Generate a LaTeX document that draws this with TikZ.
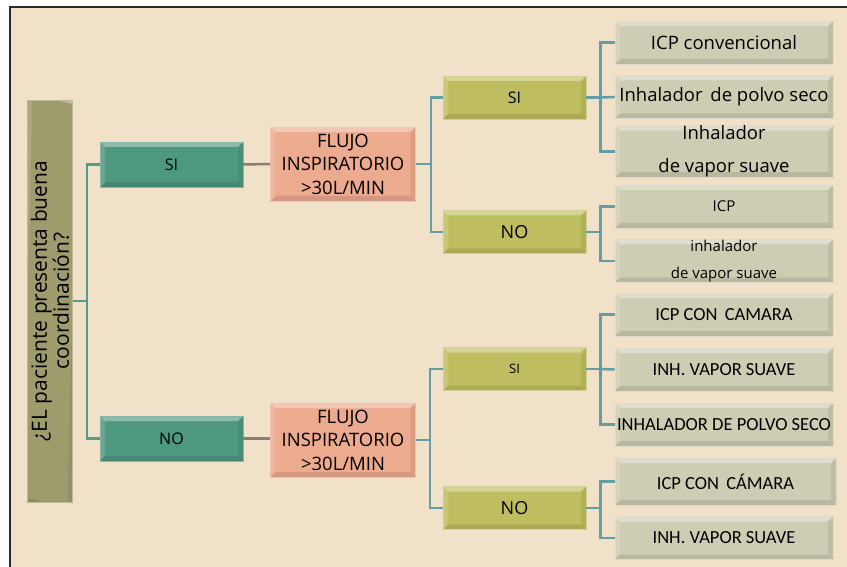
\documentclass[tikz,border=0pt]{standalone}
\usepackage{fontspec}
\setmainfont{Open Sans}
\newfontfamily\capsfont{Carlito}
\usetikzlibrary{calc}

\definecolor{beige}{RGB}{240,225,200}
\definecolor{frame}{RGB}{40,40,40}
\definecolor{olive}{RGB}{158,155,108}
\definecolor{teal}{RGB}{79,152,128}
\definecolor{salmon}{RGB}{236,170,142}
\definecolor{mustard}{RGB}{190,190,96}
\definecolor{sage}{RGB}{206,204,179}
\definecolor{greenline}{RGB}{82,156,138}
\definecolor{blueline}{RGB}{98,158,168}
\definecolor{brownline}{RGB}{138,124,114}

\tikzset{
	bevel/.style = {path picture = {
		\path (path picture bounding box.north west) coordinate (nw)
			(path picture bounding box.north east) coordinate (ne)
			(path picture bounding box.south west) coordinate (sw)
			(path picture bounding box.south east) coordinate (se);
		\fill [white, opacity = 0.35] (nw) -- (ne) -- ($(ne) + (-5pt, -5pt)$) -- ($(nw) + (5pt, -5pt)$) -- cycle;
		\fill [white, opacity = 0.15] (nw) -- ($(nw) + (5pt, -5pt)$) -- ($(sw) + (5pt, 5pt)$) -- (sw) -- cycle;
		\fill [black, opacity = 0.10] (sw) -- (se) -- ($(se) + (-5pt, 5pt)$) -- ($(sw) + (5pt, 5pt)$) -- cycle;
		\fill [black, opacity = 0.07] (ne) -- (se) -- ($(se) + (-5pt, 5pt)$) -- ($(ne) + (-5pt, -5pt)$) -- cycle;
	}},
	box/.style = {bevel, inner sep = 0pt, align = center, line width = 0.8pt},
	qbox/.style = {box, fill = olive, draw = olive!70!white, rotate = 90,
		minimum width = 402, minimum height = 45, font = \fontsize{21}{22}\selectfont},
	gbox/.style = {box, fill = teal, draw = teal!70!white,
		minimum width = 143, minimum height = 45, font = \fontsize{16}{19}\selectfont},
	fbox/.style = {box, fill = salmon, draw = salmon!70!white,
		minimum width = 145, minimum height = 74, font = \fontsize{18.5}{23.5}\selectfont},
	ybox/.style = {box, fill = mustard, draw = mustard!70!white,
		minimum width = 143, minimum height = 43},
	leaf/.style = {box, fill = sage, draw = sage!70!white,
		minimum width = 218, minimum height = 43, font = \fontsize{18.5}{33}\selectfont},
	capleaf/.style = {leaf, font = \capsfont\fontsize{18.5}{20}\selectfont},
	gline/.style = {draw = greenline, line width = 2.5pt},
	bline/.style = {draw = blueline, line width = 2.5pt},
	rline/.style = {draw = brownline, line width = 2.5pt}
}

\begin{document}
\begin{tikzpicture}[x = 1pt, y = -1pt]

	% Canvas and frame

	\useasboundingbox (0, 0) rectangle (847, 567);
	\fill [white] (0, 0) rectangle (847, 567);
	\fill [beige] (10, 7) rectangle (847, 567);
	\draw [frame, line width = 2pt] (10, 567) -- (10, 7) -- (847, 7);

	% Question

	\node [qbox] (q) at (50, 301) {¿EL paciente presenta buena\\coordinación?};

	% First answer

	\node [gbox] (si) at (171.5, 164.5) {SI};
	\node [gbox] (no) at (171.5, 438.5) {NO};

	% Inspiratory flow

	\node [fbox] (f1) at (343, 164) {FLUJO\\INSPIRATORIO\\>30L/MIN};
	\node [fbox] (f2) at (343, 440) {FLUJO\\INSPIRATORIO\\>30L/MIN};

	% Second answer

	\node [ybox, font = \fontsize{16}{18}\selectfont] (y1) at (514.5, 97.5) {SI};
	\node [ybox, font = \fontsize{18}{20}\selectfont] (y2) at (514.5, 232) {NO};
	\node [ybox, font = \fontsize{13}{15}\selectfont] (y3) at (514.5, 369) {SI};
	\node [ybox, font = \fontsize{18}{20}\selectfont] (y4) at (514.5, 508) {NO};

	% Devices

	\node [leaf] (l1) at (724, 42.5) {ICP convencional};
	\node [leaf] (l2) at (724, 97) {Inhalador\, de polvo seco};
	\node [leaf] (l3) at (724, 151.5) {Inhalador\\de vapor suave};
	\node [leaf, font = \fontsize{15}{27}\selectfont] (l4) at (724, 206.5) {ICP};
	\node [leaf, font = \fontsize{15}{27}\selectfont] (l5) at (724, 261) {inhalador\\de vapor suave};
	\node [capleaf] (l6) at (724, 314.5) {ICP CON\, CAMARA};
	\node [capleaf] (l7) at (724, 369.5) {INH. VAPOR SUAVE};
	\node [capleaf] (l8) at (724, 424.5) {INHALADOR DE POLVO SECO};
	\node [capleaf, minimum width = 221, minimum height = 47] (l9) at (725.5, 481.5) {ICP CON\, CÁMARA};
	\node [capleaf] (l10) at (724, 538) {INH. VAPOR SUAVE};

	% Connectors

	\draw [gline] (q.south) -- ++(14, 0) coordinate (j0);
	\draw [gline] (si.west) -| (j0) |- (no.west);

	\draw [rline] (si.east) -- (f1.west);
	\draw [rline] (no.east) -- (no.east -| f2.west);

	\draw [bline] (f1.east) -- ++(15, 0) coordinate (j1);
	\draw [bline] (y1.west) -| (j1) |- (y2.west);
	\draw [bline] (f2.east) -- ++(14, 0) coordinate (j2);
	\draw [bline] (y3.west) -| (j2) |- (y4.west);

	\draw [bline] (y1.east) -- ++(14, 0) coordinate (k1);
	\draw [bline] (l1.west) -| (k1) |- (l3.west);
	\draw [bline] (k1) -- (l2.west);
	\draw [bline] (y2.east) -- ++(14, 0) coordinate (k2);
	\draw [bline] (l4.west) -| (k2) |- (l5.west);
	\draw [bline] (y3.east) -- ++(14, 0) coordinate (k3);
	\draw [bline] (l6.west) -| (k3) |- (l8.west);
	\draw [bline] (k3) -- (l7.west);
	\draw [bline] (y4.east) -- ++(14, 0) coordinate (k4);
	\draw [bline] (l9.west) -| (k4) |- (l10.west);

\end{tikzpicture}
\end{document}
